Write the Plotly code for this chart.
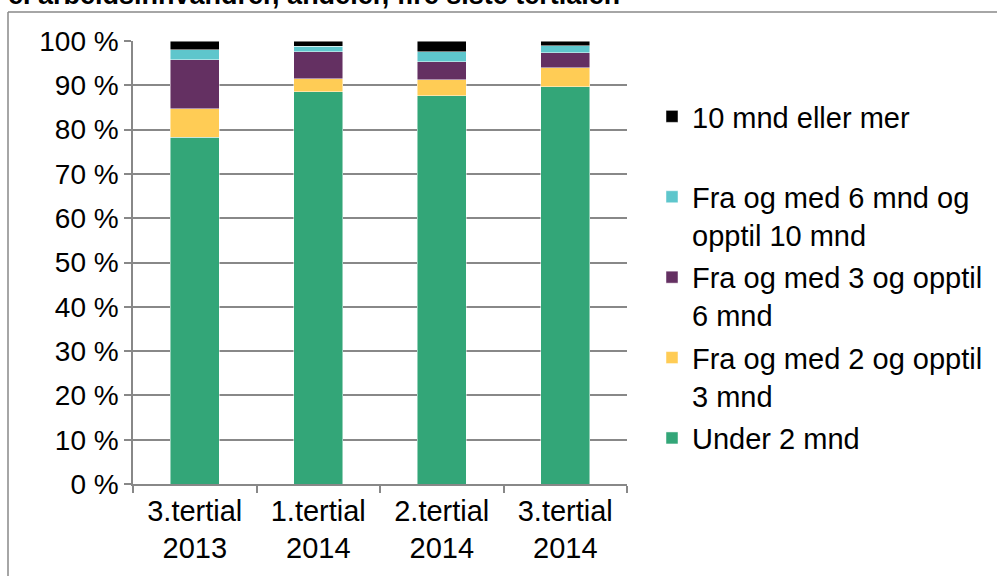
import plotly.graph_objects as go

categories = ["3.tertial<br>2013", "1.tertial<br>2014", "2.tertial<br>2014", "3.tertial<br>2014"]
under_2 = [78.3, 88.5, 87.6, 89.7]
fra_2_til_3 = [6.4, 3.0, 3.7, 4.3]
fra_3_til_6 = [11.1, 6.1, 4.0, 3.4]
fra_6_til_10 = [2.2, 1.2, 2.3, 1.5]
over_10 = [2.0, 1.2, 2.4, 1.1]
series_names = [
    "Under 2 mnd",
    "Fra og med 2 og opptil<br>3 mnd",
    "Fra og med 3 og opptil<br>6 mnd",
    "Fra og med 6 mnd og<br>opptil 10 mnd",
    "10 mnd eller mer<br> ",
]
series_values = [under_2, fra_2_til_3, fra_3_til_6, fra_6_til_10, over_10]
colors = ["#33A678", "#FFCC55", "#643062", "#5EC6CC", "#000000"]
tick_vals = [0, 10, 20, 30, 40, 50, 60, 70, 80, 90, 100]
tick_text = ["0 %", "10 %", "20 %", "30 %", "40 %", "50 %", "60 %", "70 %", "80 %", "90 %", "100 %"]
title_text = "e. arbeidsinnvandrer, andeler, fire siste tertialer."

FONT = "Liberation Sans, Arial, sans-serif"
GRID = "#888888"

fig = go.Figure()
n = len(series_names)
for i, (name, vals, col) in enumerate(zip(series_names, series_values, colors)):
    fig.add_trace(go.Bar(
        x=categories, y=vals, name=name, legendgroup="g%d" % i, legendrank=n - i,
        marker=dict(color=col, line=dict(color="rgba(255,255,255,0.6)", width=0.8)),
    ))

L, R, T, B = 133, 627, 41, 484
W, H = 997, 576
pw, ph = R - L, B - T

def px(x):
    return (x - L) / pw

def py(y):
    return (B - y) / ph

fig.update_layout(
    width=W, height=H,
    margin=dict(l=L, r=W - R, t=T, b=H - B, pad=0, autoexpand=False),
    barmode="stack",
    bargap=0.6,
    plot_bgcolor="white",
    paper_bgcolor="white",
    font=dict(family=FONT, size=29, color="#000000"),
    showlegend=True,
    legend=dict(
        x=px(652), y=py(91), xanchor="left", yanchor="top",
        traceorder="grouped", valign="top", tracegroupgap=2,
        font=dict(family=FONT, size=29, color="#000000"),
        itemwidth=30, bgcolor="rgba(0,0,0,0)",
    ),
    xaxis=dict(
        type="category",
        showline=True, linecolor=GRID, linewidth=1.5,
        ticks="outside", ticklen=7, tickcolor=GRID, tickwidth=1.5,
        tickson="boundaries",
        showgrid=False,
        tickfont=dict(family=FONT, size=29),
    ),
    yaxis=dict(
        range=[0, 100],
        tickvals=tick_vals, ticktext=tick_text,
        showline=True, linecolor=GRID, linewidth=1.5,
        ticks="outside", ticklen=7, tickcolor=GRID, tickwidth=1.5,
        showgrid=True, gridcolor=GRID, gridwidth=1.5,
        zeroline=False,
        tickfont=dict(family=FONT, size=28),
    ),
    shapes=[
        dict(type="line", xref="paper", yref="paper", x0=px(8), x1=px(997), y0=py(12), y1=py(12),
             line=dict(color=GRID, width=1.5)),
        dict(type="line", xref="paper", yref="paper", x0=px(8), x1=px(8), y0=py(12), y1=py(576),
             line=dict(color=GRID, width=1.5)),
    ],
    annotations=[
        dict(text="<b>" + title_text + "</b>", xref="paper", yref="paper",
             x=px(6), y=py(12), xanchor="left", yanchor="bottom", showarrow=False,
             font=dict(family=FONT, size=27, color="#000000")),
    ],
)

fig.write_html(
    "out.html",
    config={"displayModeBar": False},
    post_script="document.body.style.margin='0';document.body.style.padding='0';document.body.style.overflow='hidden';",
)
